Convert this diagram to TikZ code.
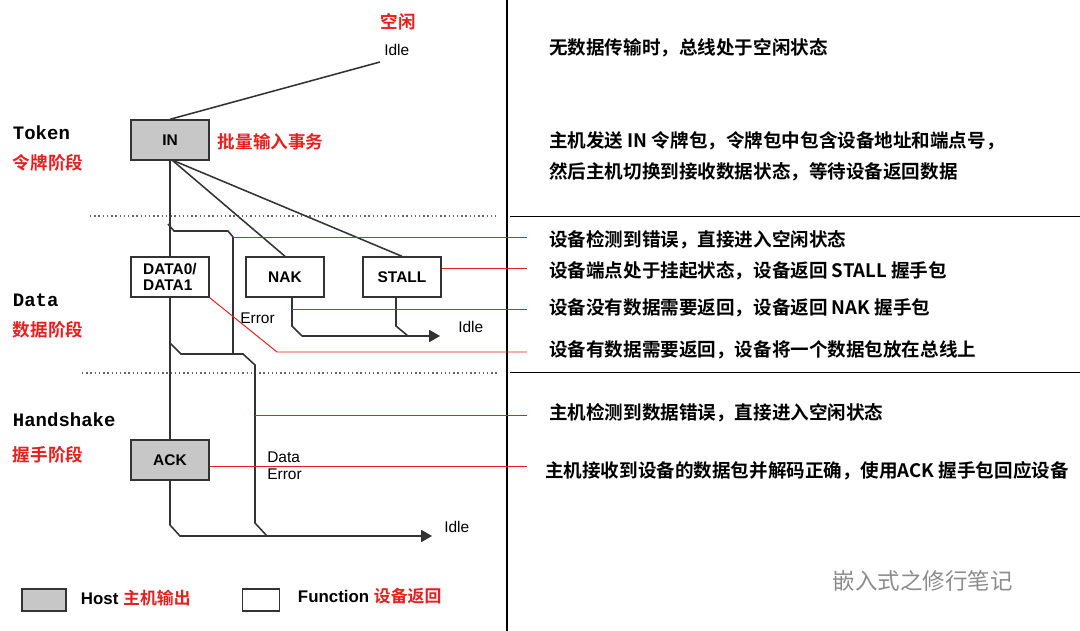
\documentclass[tikz,border=0pt]{standalone}
\usepackage{fontspec}
\setmainfont{Liberation Sans}
\newfontfamily\cjk{Noto Sans CJK SC}[BoldFont={Noto Sans CJK SC Bold}]
\newfontfamily\mono{Liberation Mono}
\usetikzlibrary{arrows}
\definecolor{hred}{RGB}{228,32,32}
\tikzset{
  pkt/.style={draw=black!80,line width=1pt,minimum width=78*0.025cm,minimum height=40*0.025cm,inner sep=0pt,font=\bfseries\fontsize{11}{12}\selectfont},
  host/.style={pkt,fill=black!22},
  flow/.style={line width=1.1pt,black!80},
  note/.style={anchor=west,inner sep=0pt,font=\cjk\bfseries\fontsize{13.2}{15}\selectfont},
  rtxt/.style={text=hred,font=\cjk\bfseries\fontsize{12.5}{14}\selectfont},
  phase/.style={anchor=west,font=\mono\bfseries\fontsize{13.5}{15}\selectfont},
  lbl/.style={anchor=west,font=\fontsize{11}{12}\selectfont,inner sep=0pt},
  ptr/.style={hred,line width=0.7pt}
}
\begin{document}
\begin{tikzpicture}[x=0.025cm,y=-0.025cm,>=triangle 60]
\useasboundingbox (0,0) rectangle (1080,631);

% dividers
\draw[line width=1.2pt] (507,0)--(507,631);
\draw[line width=0.7pt] (510,216)--(1080,216);
\draw[line width=0.7pt] (510,372)--(1080,372);
\draw[dotted,line width=1pt,black!60] (90,216)--(497,216);
\draw[dotted,line width=1pt,black!60] (82,373)--(497,373);

% phases
\node[phase] (token) at (8,133) {Token};
\node[rtxt,anchor=west] (tokenc) at (8,163) {令牌阶段};
\node[phase] (data) at (8,300) {Data};
\node[rtxt,anchor=west] (datac) at (8,330) {数据阶段};
\node[phase] (hs) at (8,420) {Handshake};
\node[rtxt,anchor=west] (hsc) at (8,455) {握手阶段};

% packets
\node[host] (in) at (170,140) {IN};
\node[pkt,align=left,font=\bfseries\fontsize{11}{11}\selectfont] (dat) at (170,277) {DATA0/\\DATA1};
\node[pkt] (nak) at (285,277) {NAK};
\node[pkt] (stall) at (402,277) {STALL};
\node[host] (ack) at (170,460) {ACK};
\node[rtxt,anchor=west] (bulk) at (213,142) {批量输入事务};

% idle
\node[lbl] (idle0) at (384,50) {Idle};
\node[rtxt] (idlec) at (398,22) {空闲};
\node[lbl] (idle1) at (458,327) {Idle};
\node[lbl] (idle2) at (444,527) {Idle};
\node[lbl] (err) at (240,318) {Error};
\node[lbl,align=left] (derr) at (267,466) {Data\\Error};

% flow lines
\draw[flow] (in.north)--(380,62);
\draw[flow] (in.south)--(dat.north);
\draw[flow] (dat.south)--(ack.north);
\draw[flow] (172,160)--(nak.north);
\draw[flow] (172,160)--(stall.north);
\draw[flow] (168,224)--(174,231)--(228,231)--(233,237)--(233,353);
\draw[flow] (170,343)--(181,354)--(243,354)--(255,365)--(255,523)--(267,536);
\draw[flow,->] (ack.south)--(170,525)--(180,536)--(432,536);
\draw[flow] (292,298)--(292,326)--(302,336);
\draw[flow,->] (302,336)--(440,336);
\draw[flow] (396,298)--(396,326)--(408,336);

% notes
\node[note] (n0) at (549,48) {无数据传输时，总线处于空闲状态};
\node[note] (n1) at (549,141) {主机发送 IN 令牌包，令牌包中包含设备地址和端点号，};
\node[note] (n2) at (549,172) {然后主机切换到接收数据状态，等待设备返回数据};
\node[note] (n3) at (549,240) {设备检测到错误，直接进入空闲状态};
\node[note] (n4) at (549,271) {设备端点处于挂起状态，设备返回 STALL 握手包};
\node[note] (n5) at (549,308) {设备没有数据需要返回，设备返回 NAK 握手包};
\node[note] (n6) at (549,350) {设备有数据需要返回，设备将一个数据包放在总线上};
\node[note] (n7) at (549,413) {主机检测到数据错误，直接进入空闲状态};
\node[note] (n8) at (545,471) {主机接收到设备的数据包并解码正确，使用ACK 握手包回应设备};

% pointer ends
\coordinate (p3) at (527,237);
\coordinate (p4) at (527,268);
\coordinate (p5) at (527,309);
\coordinate (p6) at (527,352);
\coordinate (p7) at (527,415);
\coordinate (p8) at (527,466);
\draw[ptr] (233,237)--(p3);
\draw[ptr] (stall.east|-p4)--(p4);
\draw[ptr] (292,309)--(p5);
\draw[ptr] (dat.south east)--(277,352)--(p6);
\draw[ptr] (255,415)--(p7);
\draw[ptr] (ack.east|-p8)--(p8);

% legend
\node[host,minimum width=44*0.025cm,minimum height=22*0.025cm] (khost) at (44,600) {};
\node[anchor=west,font=\bfseries\fontsize{12}{13}\selectfont] (thost) at (76,598) {Host \textcolor{hred}{\cjk 主机输出}};
\node[pkt,minimum width=37*0.025cm,minimum height=22*0.025cm] (kfun) at (261,600) {};
\node[anchor=west,font=\bfseries\fontsize{12}{13}\selectfont] (tfun) at (293,596) {Function \textcolor{hred}{\cjk 设备返回}};

% watermark
\node[anchor=west,text=black!45,font=\cjk\fontsize{16}{18}\selectfont] (wm) at (828,581) {嵌入式之修行笔记};
\end{tikzpicture}
\end{document}
